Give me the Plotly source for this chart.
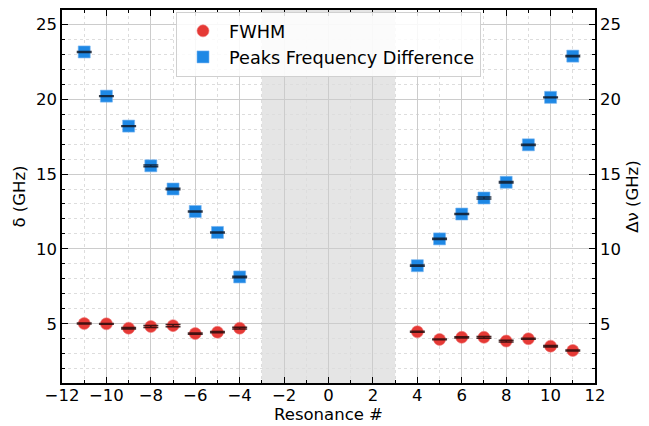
import plotly.graph_objects as go

resonance = [-11, -10, -9, -8, -7, -6, -5, -4, 4, 5, 6, 7, 8, 9, 10, 11]
fwhm = [5.02, 5.0, 4.71, 4.82, 4.88, 4.35, 4.44, 4.71, 4.47, 3.96, 4.1, 4.1, 3.85, 4.0, 3.51, 3.22]
fwhm_err = [0.03, 0.03, 0.05, 0.07, 0.08, 0.04, 0.04, 0.06, 0.03, 0.03, 0.04, 0.06, 0.06, 0.03, 0.05, 0.04]
peak_diff = [23.15, 20.2, 18.2, 15.55, 14.0, 12.5, 11.1, 8.13, 8.88, 10.67, 12.33, 13.4, 14.45, 16.95, 20.12, 22.87]
peak_err = [0.03, 0.03, 0.03, 0.06, 0.05, 0.04, 0.03, 0.05, 0.04, 0.04, 0.03, 0.06, 0.05, 0.04, 0.03, 0.04]
excluded_band = [-3, 3]

RED = "#E53935"
BLUE = "#1E88E5"
FONT = "DejaVu Sans"

fig = go.Figure()
fig.add_shape(type="rect", x0=excluded_band[0], x1=excluded_band[1], y0=0, y1=1,
              xref="x", yref="paper", fillcolor="#e5e5e5", line_width=0, layer="below")

fig.add_trace(go.Scatter(x=resonance, y=fwhm, mode="markers", name="FWHM",
                         marker=dict(symbol="circle", size=12, color=RED,
                                     line=dict(width=1, color="rgba(240,120,120,0.6)"))))
fig.add_trace(go.Scatter(x=resonance, y=peak_diff, mode="markers", name="Peaks Frequency Difference",
                         yaxis="y2",
                         marker=dict(symbol="square", size=12, color=BLUE,
                                     line=dict(width=1, color="rgba(120,180,240,0.6)"))))
# error bars drawn on top of markers
fig.add_trace(go.Scatter(x=resonance, y=fwhm, mode="markers", showlegend=False, hoverinfo="skip",
                         marker=dict(size=1, color="rgba(0,0,0,0)"),
                         error_y=dict(type="data", array=fwhm_err, color="rgba(40,10,10,0.85)",
                                      thickness=1.5, width=7.5)))
fig.add_trace(go.Scatter(x=resonance, y=peak_diff, mode="markers", showlegend=False, hoverinfo="skip",
                         yaxis="y2",
                         marker=dict(size=1, color="rgba(0,0,0,0)"),
                         error_y=dict(type="data", array=peak_err, color="rgba(15,25,40,0.85)",
                                      thickness=1.5, width=7.5)))

yr = [1.05, 25.95]
fig.update_layout(
    width=649, height=426,
    margin=dict(l=62, r=54, t=10, b=43, autoexpand=False),
    paper_bgcolor="white", plot_bgcolor="white",
    font=dict(family=FONT, size=16, color="black"),
    showlegend=True,
    legend=dict(x=0.5, xanchor="center", y=0.995, yanchor="top",
                bgcolor="rgba(255,255,255,0.85)", bordercolor="#d0d0d0", borderwidth=1,
                font=dict(size=17.7, family=FONT), itemwidth=42),
    xaxis=dict(range=[-12, 12], dtick=2, tick0=0, ticks="inside", ticklen=6, tickwidth=1,
               tickcolor="black", showline=True, linecolor="black", linewidth=1.5,
               mirror="ticks", showgrid=True, gridcolor="#cccccc", gridwidth=1, zeroline=False,
               automargin=False, ticklabelstandoff=-4,
               title=dict(text="Resonance #", font=dict(size=16.5), standoff=2),
               tickfont=dict(size=16.5),
               minor=dict(dtick=1, tick0=0, ticks="inside", ticklen=3, tickcolor="black",
                          showgrid=True, gridcolor="#dddddd", griddash="dot", gridwidth=1)),
    yaxis=dict(range=yr, dtick=5, tick0=0, ticks="inside", ticklen=6, tickwidth=1,
               tickcolor="black", showline=True, linecolor="black", linewidth=1.5,
               showgrid=True, gridcolor="#cccccc", gridwidth=1, zeroline=False,
               automargin=False,
               title=dict(text="δ (GHz)", font=dict(size=16.5), standoff=6),
               tickfont=dict(size=16.5),
               minor=dict(dtick=1, tick0=0, ticks="inside", ticklen=3, tickcolor="black",
                          showgrid=True, gridcolor="#dddddd", griddash="dot", gridwidth=1)),
    yaxis2=dict(range=yr, overlaying="y", side="right", dtick=5, tick0=0, ticks="inside",
                ticklen=6, tickwidth=1, tickcolor="black", showline=True, linecolor="black",
                linewidth=1.5, showgrid=False, zeroline=False, automargin=False,
                title=dict(text="Δν (GHz)", font=dict(size=16.5), standoff=6),
                tickfont=dict(size=16.5),
                minor=dict(dtick=1, tick0=0, ticks="inside", ticklen=3, tickcolor="black",
                           showgrid=False)),
)

fig.write_html("out.html", config={"displayModeBar": False},
               post_script="document.body.style.margin='0';document.body.style.padding='0';")
